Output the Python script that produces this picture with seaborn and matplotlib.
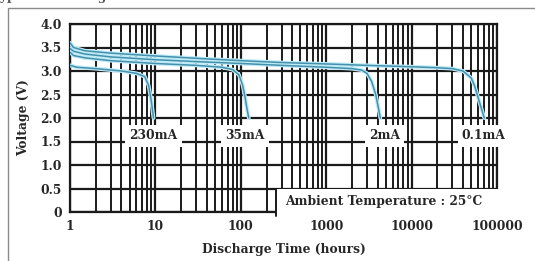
import numpy as np
import pandas as pd
import matplotlib
matplotlib.use("Agg")
import matplotlib.pyplot as plt
from matplotlib.patches import Rectangle
from matplotlib.ticker import LogLocator, FixedLocator, NullFormatter
import seaborn as sns

# ---------- data ----------
t_230 = [1, 1.2, 2, 4, 6, 7.5, 8.3, 8.8, 9.2, 9.5]
v_230 = [3.12, 3.08, 3.05, 3.0, 2.95, 2.88, 2.7, 2.45, 2.2, 2.0]

t_35 = [1, 1.1, 1.5, 3, 10, 30, 60, 80, 95, 105, 112, 118, 124]
v_35 = [3.4, 3.33, 3.28, 3.22, 3.16, 3.12, 3.08, 3.03, 2.92, 2.7, 2.45, 2.2, 2.0]

t_2 = [1, 1.1, 1.5, 3, 10, 30, 100, 300, 1000, 2000, 2600, 3000, 3400, 3800, 4100, 4300]
v_2 = [3.48, 3.42, 3.36, 3.3, 3.24, 3.2, 3.16, 3.12, 3.08, 3.05, 3.02, 2.95, 2.78, 2.5, 2.2, 2.0]

t_01 = [1, 1.1, 1.5, 3, 10, 30, 100, 300, 1000, 3000, 10000, 20000, 30000,
        40000, 50000, 55000, 62000, 67000, 71000]
v_01 = [3.6, 3.5, 3.43, 3.38, 3.32, 3.27, 3.22, 3.18, 3.15, 3.12, 3.09, 3.07, 3.05,
        3.0, 2.85, 2.67, 2.35, 2.15, 2.0]

currents = ["230mA", "35mA", "2mA", "0.1mA"]
label_t = [9.5, 111, 4800, 70000]
label_v = 1.62

y_ticks = [0, 0.5, 1.0, 1.5, 2.0, 2.5, 3.0, 3.5, 4.0]
y_labels = ["0", "0.5", "1.0", "1.5", "2.0", "2.5", "3.0", "3.5", "4.0"]
x_ticks = [1, 10, 100, 1000, 10000, 100000]
x_labels = ["1", "10", "100", "1000", "10000", "100000"]

df = pd.concat([
    pd.DataFrame({"time": t, "voltage": v, "current": c})
    for t, v, c in zip([t_230, t_35, t_2, t_01], [v_230, v_35, v_2, v_01], currents)
], ignore_index=True)

# ---------- style ----------
sns.set_style("white")
plt.rcParams["font.family"] = ["DejaVu Serif"]
plt.rcParams["font.weight"] = "bold"
FS = 8.8

fig = plt.figure(figsize=(5.35, 2.61), dpi=100)
ax = fig.add_axes([70 / 535, 1 - 212 / 261, 427 / 535, 188 / 261])

# light halo + darker teal line on top
glow = {c: "#bdebf8" for c in currents}
dark = {c: "#4690ab" for c in currents}
sns.lineplot(data=df, x="time", y="voltage", hue="current", palette=glow,
             lw=2.8, legend=False, sort=False, estimator=None, ax=ax, zorder=3)
sns.lineplot(data=df, x="time", y="voltage", hue="current", palette=dark,
             lw=1.1, legend=False, sort=False, estimator=None, ax=ax, zorder=4)

ax.set_xscale("log")
ax.set_xlim(1, 100000)
ax.set_ylim(0, 4.0)

ax.xaxis.set_major_locator(FixedLocator(x_ticks))
ax.set_xticklabels(x_labels)
ax.xaxis.set_minor_locator(LogLocator(base=10, subs=np.arange(2, 10)))
ax.xaxis.set_minor_formatter(NullFormatter())
ax.set_yticks(y_ticks)
ax.set_yticklabels(y_labels)
ax.tick_params(axis="both", which="both", length=0, labelsize=FS, pad=6)
for lab in ax.get_xticklabels() + ax.get_yticklabels():
    lab.set_fontweight("bold")

ax.grid(which="major", axis="both", color="#1a1a1a", lw=1.6)
ax.grid(which="minor", axis="x", color="#1a1a1a", lw=1.4)
ax.set_axisbelow(True)
for s in ax.spines.values():
    s.set_color("#1a1a1a")
    s.set_linewidth(1.6)

ax.set_xlabel("Discharge Time (hours)", fontsize=FS, fontweight="bold", labelpad=7)
ax.set_ylabel("Voltage (V)", fontsize=FS, fontweight="bold", labelpad=7)

# current labels over the grid
for c, tx in zip(currents, label_t):
    ax.text(tx, label_v, c, ha="center", va="center", fontsize=FS, fontweight="bold",
            zorder=6, bbox=dict(facecolor="white", edgecolor="none", pad=3.0))

# ambient temperature box
x0 = 10 ** (205 / 85)
ax.add_patch(Rectangle((x0, -0.08), 1.2e5 - x0, 0.58, facecolor="white",
                       edgecolor="none", zorder=5, clip_on=False))
ax.plot([x0, x0], [-0.08, 0.5], color="#1a1a1a", lw=1.4, zorder=6, clip_on=False)
ax.text(4700, 0.22, "Ambient Temperature : 25°C", ha="center", va="center",
        fontsize=FS, fontweight="bold", zorder=7)

# outer frame and the title clipped at the top edge
fig.patches.append(Rectangle((8 / 535, -0.1), 1.2, 1 - 8 / 261 + 0.1, transform=fig.transFigure,
                             facecolor="none", edgecolor="#8a8a8a", lw=1.0))
fig.text(-0.015, 1.012, "Typical Discharge Characteristics", ha="left", va="center",
         fontsize=FS, fontweight="bold", color="#555555")

fig.savefig("out.png", dpi=100)
